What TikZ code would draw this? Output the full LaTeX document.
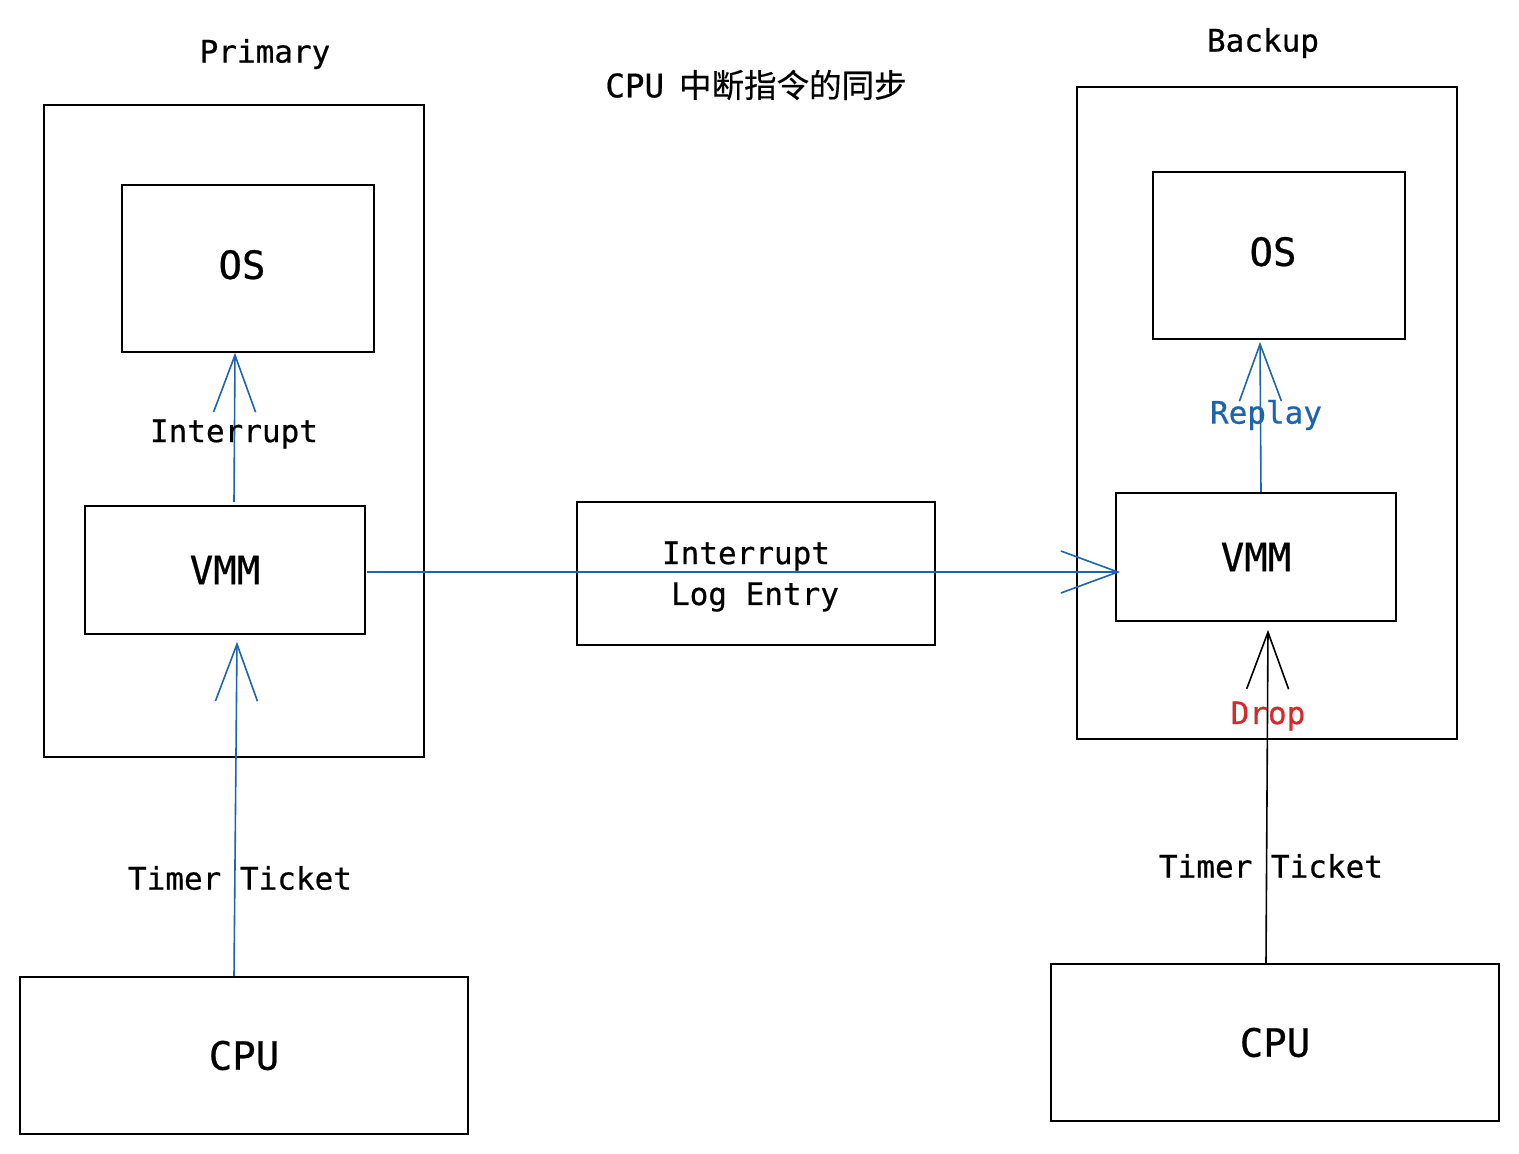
\documentclass[tikz,border=0pt]{standalone}
\usepackage{fontspec}
\setmonofont[FakeBold=0.6]{DejaVu Sans Mono}
\newfontfamily\cjk[FakeBold=0.4]{Noto Sans CJK SC}
\usetikzlibrary{arrows.meta,calc}
\definecolor{lnblue}{RGB}{30,100,172}
\definecolor{lnred}{RGB}{212,42,42}
\tikzset{
  box/.style={draw=black, line width=1.6pt, inner sep=0pt, font=\ttfamily\fontsize{39}{46}\selectfont},
  lbl/.style={inner sep=0pt, font=\ttfamily\fontsize{31}{37}\selectfont},
  barb/.style={-{Straight Barb[length=57pt,width=42pt,line width=1.6pt]}, line width=1.6pt},
}
\begin{document}
\begin{tikzpicture}[x=1pt,y=-1pt]
\useasboundingbox (0,0) rectangle (1519,1154);
% containers
\node[box, minimum width=380pt, minimum height=652pt] (primary) at (234,431) {};
\node[box, minimum width=380pt, minimum height=652pt] (backup) at (1267,413) {};
% primary side
\node[box, minimum width=252pt, minimum height=167pt] (osP) at (248,268.5) {\hspace*{-12pt}OS\vphantom{p}};
\node[box, minimum width=280pt, minimum height=128pt] (vmmP) at (225,570) {VMM};
\node[box, minimum width=448pt, minimum height=157pt] (cpuP) at (244,1055.5) {CPU};
% middle
\node[box, minimum width=358pt, minimum height=143pt] (log) at (756,573.5) {};
% backup side
\node[box, minimum width=252pt, minimum height=167pt] (osB) at (1279,255.5) {\hspace*{-12pt}OS\vphantom{p}};
\node[box, minimum width=280pt, minimum height=128pt] (vmmB) at (1256,557) {VMM};
\node[box, minimum width=448pt, minimum height=157pt] (cpuB) at (1275,1042.5) {CPU};
% titles
\node[lbl] (tP) at (265,54) {Primary};
\node[lbl] (tB) at (1263,43) {Backup};
\node[lbl, font=\fontsize{32.5}{38}\selectfont] (title) at (756,85) {{\ttfamily CPU}\hspace{15pt}{\cjk 中断指令的同步}};
% connectors
\draw[barb, lnblue] ($(cpuP.north)+(-10,0)$) -- ($(vmmP.south)+(12,7)$);
\draw[barb, lnblue] ($(vmmP.north)+(9,-3)$) -- ($(osP.south)+(-13,0)$);
\draw[barb, lnblue] ($(vmmP.east)+(1,2)$) -- ($(vmmB.west)+(5,15)$);
\draw[barb, lnblue] ($(vmmB.north)+(5,0)$) -- ($(osB.south)+(-19,2)$);
\draw[barb, black] ($(cpuB.north)+(-9,0)$) -- ($(vmmB.south)+(12,8)$);
% labels
\node[lbl] (lInt) at (234,434) {Interrupt};
\node[lbl] (lLog1) at (746,556) {Interrupt};
\node[lbl] (lLog2) at (755,597) {Log Entry};
\node[lbl, text=lnblue] (lRep) at (1266,415) {Replay};
\node[lbl, text=lnred] (lDrop) at (1268,716) {Drop};
\node[lbl] (lTP) at (240,878) {Timer Ticket};
\node[lbl] (lTB) at (1271,866) {Timer Ticket};
\end{tikzpicture}
\end{document}
